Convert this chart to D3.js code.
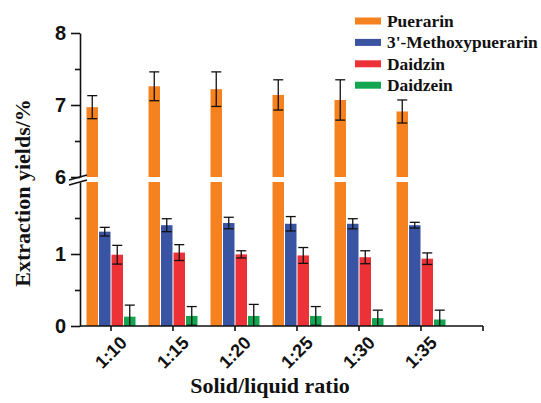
<!DOCTYPE html>
<html>
<head>
<meta charset="utf-8">
<script src="https://cdn.jsdelivr.net/npm/d3@7"></script>
<style>
  html, body { margin: 0; padding: 0; background: #fff; }
  svg { display: block; }
</style>
</head>
<body>
<svg id="chart" width="541" height="403"></svg>
<script>
const categories = ["1:10", "1:15", "1:20", "1:25", "1:30", "1:35"];
const seriesNames = ["Puerarin", "3'-Methoxypuerarin", "Daidzin", "Daidzein"];
const seriesColors = ["#f5821f", "#3a54a4", "#ec3237", "#13a651"];
const puerarin      = [6.97, 7.26, 7.22, 7.14, 7.07, 6.91];
const puerarinErr   = [0.16, 0.20, 0.24, 0.21, 0.28, 0.16];
const methoxy       = [1.31, 1.40, 1.43, 1.42, 1.42, 1.40];
const methoxyErr    = [0.06, 0.09, 0.08, 0.10, 0.07, 0.04];
const daidzin       = [0.99, 1.02, 0.995, 0.98, 0.955, 0.935];
const daidzinErr    = [0.13, 0.11, 0.05, 0.11, 0.09, 0.08];
const daidzein      = [0.13, 0.14, 0.14, 0.14, 0.11, 0.09];
const daidzeinErr   = [0.16, 0.13, 0.16, 0.13, 0.11, 0.13];
const upperTicks = [6, 7, 8];
const upperMinor = [6.5, 7.5];
const lowerTicks = [0, 1];
const lowerMinor = [0.5, 1.5];

const values = [puerarin, methoxy, daidzin, daidzein];
const errors = [puerarinErr, methoxyErr, daidzinErr, daidzeinErr];

const svg = d3.select("#chart");
const left = 80, axisEnd = 483, bottom = 326;

const x0 = d3.scaleBand().domain(categories).range([left, left + 62 * categories.length]).paddingInner(0).paddingOuter(0);
const x1 = d3.scaleBand().domain(seriesNames).range([0, 49]).paddingInner(0.08);
const yLow = d3.scaleLinear().domain([0, 2]).range([bottom, 182]);
const yUp = d3.scaleLinear().domain([6, 8]).range([177, 33]);

const ink = "#111";

const data = [];
categories.forEach((c, i) => {
  seriesNames.forEach((s, j) => {
    data.push({ c, s, j, v: values[j][i], e: errors[j][i] });
  });
});

const gx = d => x0(d.c) + x0.bandwidth() / 2 - 24.5 + x1(d.s);

data.forEach(d => {
  const bx = gx(d), bw = x1.bandwidth();
  const cx = bx + bw / 2;
  if (d.v > 2) {
    svg.append("rect").attr("x", bx).attr("y", yLow(2)).attr("width", bw)
      .attr("height", yLow(0) - yLow(2)).attr("fill", seriesColors[d.j]);
    svg.append("rect").attr("x", bx).attr("y", yUp(d.v)).attr("width", bw)
      .attr("height", yUp(6) - yUp(d.v)).attr("fill", seriesColors[d.j]);
    const t = yUp(d.v + d.e), b = yUp(d.v - d.e);
    svg.append("line").attr("x1", cx).attr("x2", cx).attr("y1", t).attr("y2", b).attr("stroke", ink).attr("stroke-width", 1.3);
    [t, b].forEach(yy => svg.append("line").attr("x1", cx - 5).attr("x2", cx + 5).attr("y1", yy).attr("y2", yy).attr("stroke", ink).attr("stroke-width", 1.3));
  } else {
    svg.append("rect").attr("x", bx).attr("y", yLow(d.v)).attr("width", bw)
      .attr("height", yLow(0) - yLow(d.v)).attr("fill", seriesColors[d.j]);
    const t = yLow(d.v + d.e);
    const lowV = d.v - d.e;
    const b = lowV > 0 ? yLow(lowV) : yLow(0);
    svg.append("line").attr("x1", cx).attr("x2", cx).attr("y1", t).attr("y2", b).attr("stroke", ink).attr("stroke-width", 1.3);
    svg.append("line").attr("x1", cx - 5).attr("x2", cx + 5).attr("y1", t).attr("y2", t).attr("stroke", ink).attr("stroke-width", 1.3);
    if (lowV > 0) svg.append("line").attr("x1", cx - 5).attr("x2", cx + 5).attr("y1", b).attr("y2", b).attr("stroke", ink).attr("stroke-width", 1.3);
  }
});

// Y axes
const tickFont = "'Liberation Sans', Arial, sans-serif";
const upAxis = svg.append("g").attr("transform", `translate(${left},0)`)
  .call(d3.axisLeft(yUp).tickValues(upperTicks).tickSize(9).tickSizeOuter(0).tickFormat(d3.format("d")));
const upMinor = svg.append("g").attr("transform", `translate(${left},0)`)
  .call(d3.axisLeft(yUp).tickValues(upperMinor).tickSize(5).tickSizeOuter(0).tickFormat(""));
upMinor.select(".domain").remove();
const lowAxis = svg.append("g").attr("transform", `translate(${left},0)`)
  .call(d3.axisLeft(yLow).tickValues(lowerTicks).tickSize(9).tickSizeOuter(0).tickFormat(d3.format("d")));
const lowMinor = svg.append("g").attr("transform", `translate(${left},0)`)
  .call(d3.axisLeft(yLow).tickValues(lowerMinor).tickSize(5).tickSizeOuter(0).tickFormat(""));
lowMinor.select(".domain").remove();

[upAxis, lowAxis, upMinor, lowMinor].forEach(g => {
  g.selectAll("path, line").attr("stroke", ink).attr("stroke-width", 1.6);
  g.selectAll("text").attr("font-family", tickFont).attr("font-weight", "bold")
    .attr("font-size", 20).attr("fill", ink).attr("x", -14);
});

// break marks
[0, 5].forEach(off => {
  svg.append("line").attr("x1", left - 11).attr("y1", 180 + off).attr("x2", left + 7).attr("y2", 175 + off)
    .attr("stroke", ink).attr("stroke-width", 1.6);
});

// X axis
const xAxis = svg.append("g").attr("transform", `translate(0,${bottom})`)
  .call(d3.axisBottom(x0).tickSize(5).tickSizeOuter(0).tickFormat(""));
xAxis.select(".domain").attr("d", `M${left},0H${axisEnd}`);
xAxis.append("line").attr("x1", axisEnd).attr("x2", axisEnd).attr("y1", 0).attr("y2", 5);
xAxis.selectAll("path, line").attr("stroke", ink).attr("stroke-width", 1.6);

// rotated category labels: rotation on a wrapping group
categories.forEach(c => {
  const cx = x0(c) + x0.bandwidth() / 2;
  svg.append("g")
    .attr("transform", `translate(${cx + 17},${bottom + 18}) rotate(-45)`)
    .append("text")
    .attr("x", 0).attr("y", 0)
    .attr("text-anchor", "end")
    .attr("font-family", tickFont).attr("font-weight", "bold").attr("font-size", 18).attr("fill", ink)
    .text(c);
});

// axis titles
const titleFont = "'Liberation Serif', 'Times New Roman', serif";
svg.append("text").attr("x", 270).attr("y", 393).attr("text-anchor", "middle")
  .attr("font-family", titleFont).attr("font-weight", "bold").attr("font-size", 22).attr("fill", ink)
  .text("Solid/liquid ratio");
svg.append("text").attr("transform", "translate(30,193) rotate(-90)").attr("text-anchor", "middle")
  .attr("font-family", titleFont).attr("font-weight", "bold").attr("font-size", 22).attr("fill", ink)
  .text("Extraction yields/%");

// legend
const lg = svg.append("g");
seriesNames.forEach((s, j) => {
  const cy = 21 + j * 21.4;
  lg.append("rect").attr("x", 355).attr("y", cy - 3.5).attr("width", 26).attr("height", 7).attr("fill", seriesColors[j]);
  lg.append("text").attr("x", 387).attr("y", cy).attr("dy", "0.35em")
    .attr("font-family", titleFont).attr("font-weight", "bold").attr("font-size", 17.4).attr("fill", ink)
    .text(s);
});
</script>
</body>
</html>
